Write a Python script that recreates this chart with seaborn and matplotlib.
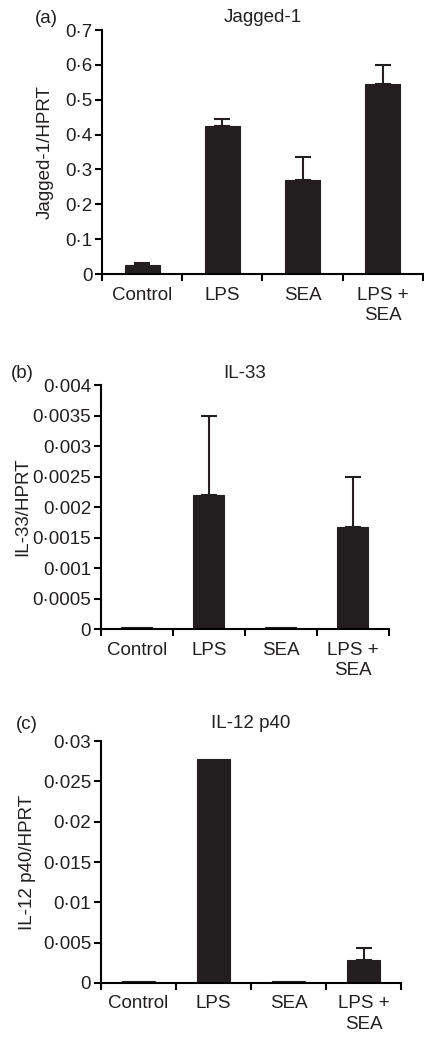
import matplotlib
matplotlib.use("Agg")
import matplotlib.pyplot as plt
import seaborn as sns
import numpy as np
from matplotlib.ticker import FixedLocator, FixedFormatter

categories = ["Control", "LPS", "SEA", "LPS +\nSEA"]

jagged_values = [0.025, 0.424, 0.27, 0.545]
jagged_err = [0.008, 0.021, 0.067, 0.055]
jagged_ticks = [0, 0.1, 0.2, 0.3, 0.4, 0.5, 0.6, 0.7]
jagged_ticklabels = ["0", "0·1", "0·2", "0·3", "0·4", "0·5", "0·6", "0·7"]

il33_values = [0.00003, 0.0022, 0.00003, 0.00168]
il33_err = [0.0, 0.0013, 0.0, 0.00082]
il33_ticks = [0, 0.0005, 0.001, 0.0015, 0.002, 0.0025, 0.003, 0.0035, 0.004]
il33_ticklabels = ["0", "0·0005", "0·001", "0·0015", "0·002", "0·0025",
                   "0·003", "0·0035", "0·004"]

il12_values = [0.0003, 0.0278, 0.0003, 0.0028]
il12_err = [0.0, 0.0, 0.0, 0.0015]
il12_ticks = [0, 0.005, 0.01, 0.015, 0.02, 0.025, 0.03]
il12_ticklabels = ["0", "0·005", "0·01", "0·015", "0·02", "0·025", "0·03"]

sns.set_style("white")
plt.rcParams["font.family"] = ["Liberation Sans", "DejaVu Sans"]

BAR = "#231f20"
TXT = "#231f20"
FS = 13.5

fig = plt.figure(figsize=(4.24, 10.38), dpi=100)

panels = [
    dict(rect=[0.2406, 0.736, 0.757, 0.235], vals=jagged_values, err=jagged_err,
         ticks=jagged_ticks, labels=jagged_ticklabels, title="Jagged-1",
         ylabel="Jagged-1/HPRT", tag="(a)", ymax=0.7, width=0.435,
         ylab_x=-0.149, tag_xy=(-0.174, 1.049), title_y=1.053),
    dict(rect=[0.238, 0.394, 0.679, 0.235], vals=il33_values, err=il33_err,
         ticks=il33_ticks, labels=il33_ticklabels, title="IL-33",
         ylabel="IL-33/HPRT", tag="(b)", ymax=0.004, width=0.43,
         ylab_x=-0.243, tag_xy=(-0.274, 1.049), title_y=1.049),
    dict(rect=[0.238, 0.053, 0.708, 0.233], vals=il12_values, err=il12_err,
         ticks=il12_ticks, labels=il12_ticklabels, title="IL-12 p40",
         ylabel="IL-12 p40/HPRT", tag="(c)", ymax=0.03, width=0.44,
         ylab_x=-0.217, tag_xy=(-0.247, 1.07), title_y=1.074),
]

for p in panels:
    ax = fig.add_axes(p["rect"])
    sns.barplot(x=categories, y=p["vals"], color=BAR, saturation=1,
                width=p["width"], ax=ax, edgecolor=BAR, linewidth=0.8)
    xs = np.arange(len(categories))
    errs = np.array(p["err"])
    mask = errs > 0
    ax.errorbar(xs[mask], np.array(p["vals"])[mask],
                yerr=[np.zeros(mask.sum()), errs[mask]],
                fmt="none", ecolor=BAR, elinewidth=1.5, capsize=6, capthick=1.5)
    ax.set_xlim(-0.5, 3.5)
    ax.set_ylim(0, p["ymax"])
    ax.yaxis.set_major_locator(FixedLocator(p["ticks"]))
    ax.yaxis.set_major_formatter(FixedFormatter(p["labels"]))
    ax.set_xticks(xs)
    ax.set_xticklabels(categories, fontsize=FS, linespacing=1.3, color=TXT)
    ax.set_xticks(np.arange(-0.5, 4.0, 1.0), minor=True)
    ax.tick_params(axis="x", which="major", length=0, pad=9)
    ax.tick_params(axis="x", which="minor", length=5, width=1.5,
                   direction="out", color="black", bottom=True)
    ax.tick_params(axis="y", which="major", length=5, width=1.5,
                   direction="out", color="black", labelsize=FS, pad=2,
                   left=True, labelcolor=TXT)
    for s in ["top", "right"]:
        ax.spines[s].set_visible(False)
    for s in ["left", "bottom"]:
        ax.spines[s].set_color("black")
        ax.spines[s].set_linewidth(1.5)
    ax.text(0.5, p["title_y"], p["title"], transform=ax.transAxes,
            fontsize=FS, ha="center", va="center", color=TXT)
    ax.set_ylabel(p["ylabel"], fontsize=FS, color=TXT)
    ax.yaxis.set_label_coords(p["ylab_x"], 0.5)
    ax.set_xlabel("")
    ax.text(p["tag_xy"][0], p["tag_xy"][1], p["tag"],
            transform=ax.transAxes, fontsize=FS, ha="center", va="center",
            color=TXT)

fig.savefig("out.png", dpi=100)
